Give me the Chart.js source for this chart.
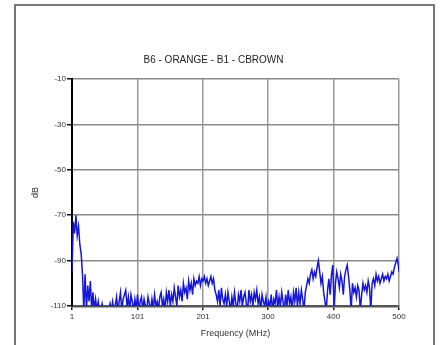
<!DOCTYPE html>
<html>
<head>
<meta charset="utf-8">
<script src="https://cdn.jsdelivr.net/npm/chart.js@4"></script>
<style>
  body { margin: 0; background: #fff; }
  #frame { position: absolute; left: 14px; top: 4px; width: 417px; height: 400px; border: 2px solid #777; }
  #wrap { position: absolute; left: 0; top: 0; width: 440px; height: 345px; }
</style>
</head>
<body>
<div id="frame"></div>
<div id="wrap"><canvas id="myChart" width="440" height="345"></canvas></div>
<script>
// дані спектру (крок 2 МГц, починаючи з 1 МГц)
var freqStart = 1;
var freqStep = 2;
var levels = [
  -95, -73, -78, -70, -79, -75, -83, -87, -96, -112,
  -96, -112, -101, -108, -99, -112, -104, -112, -107, -112,
  -108, -112, -112, -109, -112, -112, -112, -112, -112, -109,
  -112, -108, -112, -110, -106, -112, -108, -104, -112, -107,
  -105, -103, -110, -106, -112, -105, -108, -112, -107, -111,
  -105, -112, -108, -106, -112, -107, -110, -112, -106, -109,
  -112, -107, -111, -105, -110, -108, -112, -106, -104, -110,
  -107, -112, -104, -108, -103, -110, -105, -108, -102, -106,
  -110, -101, -106, -103, -108, -100, -104, -102, -107, -99,
  -103, -100, -105, -98, -101, -99, -100, -97, -101, -98,
  -99, -97, -100, -98, -101, -99, -97, -100, -98, -103,
  -105, -108, -103, -110, -102, -107, -109, -105, -110, -104,
  -108, -112, -106, -110, -104, -109, -112, -105, -108, -103,
  -110, -106, -104, -109, -112, -103, -108, -105, -110, -104,
  -107, -103, -109, -106, -112, -105, -108, -110, -106, -112,
  -108, -110, -105, -112, -107, -109, -103, -111, -106, -110,
  -104, -108, -112, -105, -110, -103, -109, -106, -112, -104,
  -108, -102, -110, -104, -109, -103, -107, -112, -104, -101,
  -98, -100, -96, -94, -98, -95, -97, -93, -90, -95,
  -100, -97, -104, -108, -112, -103, -98, -105, -96, -92,
  -112, -100, -95, -98, -102, -96, -99, -105, -97, -94,
  -92, -97, -103, -112, -100, -104, -102, -106, -101, -103,
  -112, -105, -100, -103, -101, -104, -99, -102, -112, -100,
  -98, -101, -96, -99, -97, -100, -98, -96, -99, -97,
  -98, -96, -99, -97, -95, -96, -93, -91, -89, -92
];
var lastFreq = 500;
var lastLevel = -95;

var xTicks = [1, 101, 201, 300, 400, 500];
var yMin = -110;
var yMax = -10;

var points = levels.map(function (v, i) { return { x: freqStart + i * freqStep, y: v }; });
points.push({ x: lastFreq, y: lastLevel });

var fontName = "'Liberation Sans', Arial, sans-serif";

var myChart = new Chart(document.getElementById('myChart').getContext('2d'), {
    type: 'line',
    data: {
        datasets: [{
            data: points,
            borderColor: '#1616d6',
            borderWidth: 1.5,
            pointRadius: 0,
            tension: 0,
            fill: false
        }]
    },
    options: {
        responsive: false,
        animation: false,
        layout: { padding: { left: 28, right: 41, top: 0, bottom: 0 } },
        plugins: {
            legend: { display: false },
            tooltip: { enabled: false },
            title: {
                display: true,
                text: 'B6 - ORANGE - B1 - CBROWN',
                color: '#222',
                font: { family: fontName, size: 10, weight: 'normal', lineHeight: 1.2 },
                padding: { top: 54, bottom: 13 }
            }
        },
        scales: {
            x: {
                type: 'linear',
                min: 1,
                max: 500,
                afterBuildTicks: function (scale) {
                    scale.ticks = xTicks.map(function (v) { return { value: v }; });
                },
                afterFit: function (scale) { scale.height = 39; },
                grid: { color: '#9a9a9a', lineWidth: 1.5, tickColor: '#111', tickLength: 4 },
                border: { color: '#555', width: 2.5 },
                ticks: {
                    color: '#333', font: { family: fontName, size: 8 }, padding: 2,
                    maxRotation: 0, autoSkip: false
                },
                title: {
                    display: true, text: 'Frequency (MHz)', color: '#333',
                    font: { family: fontName, size: 9, lineHeight: 1.2 },
                    padding: { top: 0, bottom: 6 }
                }
            },
            y: {
                min: yMin,
                max: yMax,
                afterFit: function (scale) { scale.width = 44; },
                grid: { color: '#8a8a8a', lineWidth: 1.5, tickColor: '#111', tickLength: 5 },
                border: { color: '#000', width: 2 },
                ticks: { stepSize: 20, color: '#333', font: { family: fontName, size: 8 }, padding: 1 },
                title: {
                    display: true, text: 'dB', color: '#333',
                    font: { family: fontName, size: 9, lineHeight: 1.2 },
                    padding: { top: 2.5, bottom: 0 }
                }
            }
        }
    }
});
</script>
</body>
</html>
